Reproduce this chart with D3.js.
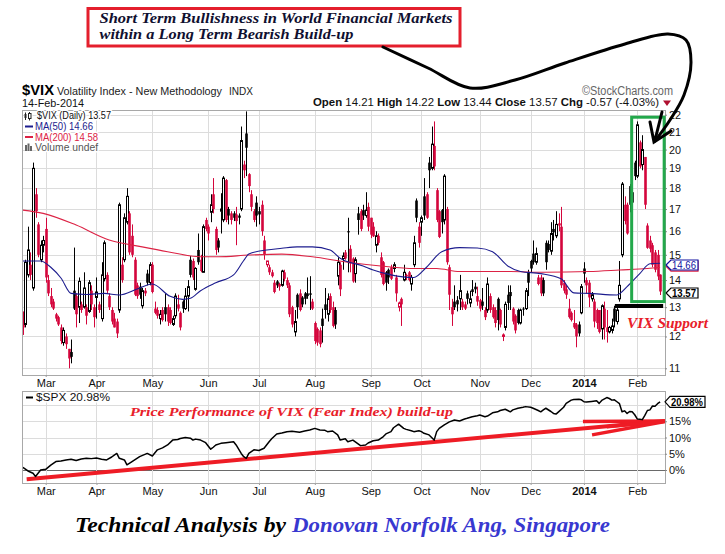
<!DOCTYPE html>
<html><head><meta charset="utf-8">
<script src="https://cdn.jsdelivr.net/npm/d3@7"></script>
<style>body{margin:0;background:#fff}svg{display:block}</style>
</head><body><svg id="c" width="725" height="554" font-family="'Liberation Sans',Arial,sans-serif"></svg>
<script>
// ---------- DATA ----------
const vixOpen=[12.8,12.4,14.2,14.6,13.7,17.7,16.3,14.8,15.4,16.1,
14.0,13.4,13.2,12.75,12.65,12.3,11.8,12.0,11.6,11.5,
13.6,13.4,13.0,13.1,13.0,13.0,12.85,13.6,13.0,13.35,
13.1,12.6,14.05,14.2,13.4,12.9,12.6,12.5,12.9,14.6,
14.8,16.4,16.8,15.8,14.8,13.8,13.75,13.05,13.6,14.25,
13.9,14.6,12.95,12.9,12.6,12.9,13.0,13.0,12.9,12.4,
12.7,13.1,12.8,13.2,12.95,13.4,14.8,14.75,13.65,15.2,
14.8,14.3,16.5,16.2,16.85,17.7,16.1,15.6,16.9,16.5,
18.4,17.0,16.8,16.8,16.75,16.7,17.0,19.2,20.9,18.7,
17.7,16.9,17.3,16.9,17.2,15.6,14.6,14.5,14.3,13.9,
13.95,13.85,13.8,14.3,14.0,13.8,13.0,12.15,13.45,13.5,
13.35,13.5,13.5,13.5,13.2,12.45,12.25,12.2,12.6,13.1,
12.75,13.4,13.0,12.9,14.15,14.6,14.85,15.1,16.0,15.25,
14.85,14.25,16.8,16.9,16.95,16.7,17.1,16.6,16.2,15.4,
15.8,14.9,14.7,14.3,14.4,14.5,14.45,14.1,13.0,13.3,
14.0,14.2,14.3,13.85,14.6,17.4,16.2,16.4,17.6,17.7,
19.3,19.0,20.2,17.9,16.9,16.95,16.5,17.0,14.5,13.0,
13.2,13.25,13.3,13.2,13.1,13.5,13.15,13.65,13.75,13.4,
13.25,13.2,12.9,12.9,13.4,13.0,12.9,13.3,12.9,12.0,
12.3,13.45,13.55,12.95,12.7,12.9,12.45,12.95,12.95,14.3,
14.75,15.05,14.7,14.1,14.1,14.0,15.5,15.45,15.15,16.1,
15.8,16.35,16.2,13.9,13.65,12.95,12.8,12.45,12.4,12.4,
12.8,14.45,14.0,13.9,13.3,13.2,12.9,12.9,12.25,12.95,
12.3,12.15,12.2,12.95,12.5,13.3,15.0,17.2,17.2,18.1,
17.8,19.3,18.6,20.4,19.2,19.6,16.25,15.6,15.4,15.1,
15.0,14.21];
const vixHigh=[12.85,14.8,16.2,15.1,19.3,18.0,16.4,15.6,15.8,16.6,
14.2,13.7,13.3,12.8,12.7,12.4,12.3,12.1,11.6,11.9,
15.3,13.5,14.1,13.2,14.3,13.1,14.0,13.8,13.1,14.1,
13.2,14.7,15.6,14.3,13.5,13.0,12.8,12.6,17.3,14.9,
16.8,18.0,16.9,16.3,14.9,13.9,13.9,13.7,13.7,14.4,
14.7,14.7,13.2,13.0,12.9,13.0,13.5,13.1,13.0,12.7,
13.5,13.45,12.85,13.25,13.7,14.0,14.95,14.85,14.5,15.9,
15.0,16.3,16.6,16.3,17.7,18.5,16.2,15.7,17.75,18.6,
18.45,17.1,16.9,16.9,17.1,16.8,21.3,19.4,22.2,18.75,
17.9,17.0,17.6,17.1,17.4,15.8,14.75,14.6,14.4,14.0,
14.0,13.9,14.4,14.4,14.1,13.9,13.05,12.9,13.5,13.65,
13.4,13.55,14.1,14.15,13.3,12.5,12.3,12.3,12.95,13.7,
13.5,13.5,13.2,13.0,14.9,14.7,15.1,15.2,16.6,15.4,
14.9,14.9,17.1,17.0,17.2,17.8,17.3,16.6,16.4,16.0,
15.9,15.1,14.75,14.35,14.45,14.6,14.7,14.2,13.2,13.35,
14.6,14.25,14.35,14.2,15.8,17.5,16.4,16.7,18.5,17.8,
19.6,21.3,21.6,18.0,16.95,17.0,18.7,17.1,14.6,13.3,
13.8,13.4,14.2,13.3,13.2,13.6,13.6,14.0,13.9,13.75,
13.3,13.7,13.0,14.1,13.5,13.1,13.0,13.35,12.95,12.1,
13.2,13.8,13.8,13.0,12.75,12.95,12.95,13.0,13.7,14.4,
14.8,15.6,15.3,14.2,14.2,14.1,15.6,15.6,16.4,16.5,
16.9,16.8,17.1,14.0,13.8,13.3,12.85,12.9,12.45,12.5,
13.85,14.7,14.1,14.0,13.55,13.3,12.95,12.9,13.1,13.2,
12.9,12.35,12.6,13.05,13.0,14.75,18.3,17.6,17.3,18.2,
18.0,19.4,21.6,20.5,20.8,19.6,16.35,15.8,15.5,15.2,
15.2,14.22];
const vixLow=[12.05,12.3,14.1,14.0,13.6,16.6,14.9,14.7,15.1,13.9,
13.4,13.0,12.9,12.5,12.35,11.75,11.7,11.6,11.0,11.15,
12.9,12.3,12.45,12.8,12.95,12.4,12.8,12.9,12.3,12.6,
12.8,12.5,13.95,13.5,12.9,12.4,12.3,11.95,12.8,13.9,
14.7,16.3,15.0,14.9,13.4,13.3,13.3,12.95,13.4,13.8,
13.8,13.5,12.75,12.6,12.4,12.5,12.5,12.35,12.4,12.35,
12.6,12.85,12.2,12.8,12.9,12.85,14.1,14.0,13.6,14.6,
14.3,14.3,16.0,15.6,16.4,16.8,15.0,15.1,15.9,16.4,
16.4,16.3,16.3,16.45,15.4,16.3,16.9,18.5,18.6,17.8,
16.9,16.4,16.2,16.3,15.8,14.8,14.5,14.2,14.1,13.5,
13.7,13.6,13.75,13.95,13.7,12.65,12.3,12.0,12.6,12.85,
13.0,13.1,13.3,12.9,12.9,11.75,11.7,11.65,11.8,12.6,
12.5,12.8,12.3,12.25,13.8,13.4,14.4,14.8,14.3,14.3,
13.9,13.9,15.85,16.0,16.5,16.6,16.0,15.7,15.75,15.1,
15.4,14.1,13.8,13.6,13.85,14.0,14.3,13.2,12.85,12.35,
13.95,14.0,13.95,13.6,14.5,16.4,15.3,15.8,16.5,16.55,
18.0,18.9,18.9,16.4,15.7,15.9,16.3,14.6,12.9,12.35,
12.9,12.85,12.9,12.9,12.9,13.1,13.0,13.4,13.5,13.05,
12.85,12.9,12.55,12.8,12.8,12.6,12.3,12.2,12.3,11.85,
12.2,12.9,12.9,12.4,12.1,12.4,12.4,12.7,12.9,13.4,
14.3,14.6,14.6,13.8,13.4,13.4,14.4,15.1,15.0,15.6,
15.7,16.0,13.7,13.5,13.3,12.6,12.5,12.25,11.65,12.0,
12.75,13.9,13.5,13.0,13.2,12.3,12.25,12.1,11.9,11.9,
11.8,12.1,12.1,12.3,12.4,13.2,14.9,16.3,15.85,16.85,
17.0,18.4,18.5,19.0,18.9,17.0,15.25,15.1,14.5,14.3,
14.0,13.44];
const vixClose=[12.3,14.7,15.2,14.2,19.0,16.9,15.0,15.4,15.6,14.1,
13.5,13.1,12.95,12.6,12.4,11.85,12.2,11.75,11.3,11.35,
12.95,12.75,13.95,12.9,13.7,12.7,13.9,13.1,12.65,13.55,
12.9,14.2,15.5,13.6,13.0,12.5,12.3,12.1,17.2,14.0,
16.6,17.6,15.1,15.0,13.45,13.4,13.45,13.6,13.5,13.9,
14.6,13.55,12.8,12.7,12.75,12.55,12.75,12.5,12.45,12.6,
13.4,12.95,12.3,12.95,13.4,13.75,14.2,14.1,14.45,14.7,
14.35,16.2,16.1,15.9,17.2,17.0,15.2,15.3,17.0,18.5,
16.5,16.7,16.5,16.6,16.45,16.6,20.5,18.9,20.1,18.1,
17.1,16.5,16.7,16.75,16.0,15.0,14.75,14.3,14.15,13.55,
13.8,13.75,14.35,14.05,13.8,12.75,12.4,12.5,13.0,12.9,
13.1,13.3,13.4,13.45,12.95,11.85,11.8,11.75,12.35,12.9,
13.3,12.9,12.35,12.4,14.7,13.65,14.95,14.85,15.95,14.65,
13.95,14.8,16.5,16.1,16.7,16.95,16.2,15.85,15.78,15.8,
15.5,14.2,13.85,13.9,14.1,14.05,14.6,13.5,13.15,13.1,
14.3,14.15,14.0,14.1,15.5,16.6,15.5,16.6,16.7,16.6,
18.9,20.3,19.1,16.5,15.75,16.4,18.6,14.7,13.45,12.75,
13.0,13.1,13.6,13.0,12.95,13.3,13.3,13.55,13.65,13.2,
12.95,13.05,12.65,13.85,12.9,12.65,12.45,12.55,12.4,12.05,
13.1,13.15,13.4,12.5,12.2,12.45,12.9,12.92,13.6,13.9,
14.45,14.7,15.05,13.85,13.5,13.5,14.7,15.2,15.9,15.95,
16.3,16.25,13.8,13.6,13.45,12.65,12.55,12.3,12.0,12.1,
13.75,14.25,13.8,13.35,13.45,12.5,12.45,12.15,13.05,12.3,
12.15,12.3,12.35,12.5,12.9,13.8,18.2,16.45,15.9,17.2,
17.3,18.6,21.4,19.1,20.0,17.2,15.29,15.25,14.6,14.4,
14.14,13.57];

const ma50Idx=[0,7,11,15,19,25,32,38,45,51,58,63,66,70,76,83,87,89,96,102,108,114,121,125,134,138,145,154,159,165,172,179,185,191,196,204,212,217,223,234,238,243,247,251];
const ma50Val=[14.75,14.75,14.5,14.08,13.5,13.46,13.5,13.44,13.66,13.85,13.39,13.28,13.32,13.6,13.9,14.2,14.77,15.03,15.2,15.27,15.33,15.33,15.2,14.86,14.55,14.39,14.2,14.1,14.5,15.13,15.3,15.28,15.13,14.55,14.33,14.25,14.05,13.52,13.5,13.44,13.75,14.25,14.64,14.66];
const ma200Idx=[0,8,21,34,47,57,70,77,89,102,114,128,141,154,163,172,192,205,223,235,246,251];
const ma200Val=[16.95,16.8,16.27,15.62,15.33,15.13,14.92,14.92,14.99,15.03,14.92,14.7,14.55,14.45,14.45,14.33,14.33,14.3,14.33,14.39,14.45,14.5];

const spxIdx=[0,2,4,5,6,7,9,11,13,15,17,19,21,23,25,27,29,31,33,35,36,37,38,40,41,43,46,49,51,53,55,57,59,61,62,64,66,67,68,70,72,74,75,76,78,80,83,84,86,87,88,89,91,93,95,97,98,100,102,104,106,109,111,113,115,117,119,120,122,124,125,127,128,130,133,135,136,138,140,142,143,145,146,148,150,151,153,154,156,157,158,160,161,162,163,164,166,168,170,172,174,175,177,179,180,182,183,185,187,188,190,192,193,195,197,198,200,201,203,204,205,206,208,209,210,211,213,214,216,217,219,220,221,222,223,224,226,227,228,230,231,232,233,234,235,236,237,238,239,240,241,242,243,244,245,246,247,248,249,250,251];
const spxPct=[0.8,-0.3,-1.0,-2.0,-1.0,0.0,0.2,1.5,2.6,2.8,3.1,3.3,2.9,3.4,3.6,3.5,3.7,3.3,3.1,4.0,4.6,5.1,3.6,3.1,1.6,2.6,4.1,5.1,4.3,6.2,6.8,7.7,9.2,9.4,9.7,10.0,9.8,9.2,9.5,9.2,8.4,6.4,7.0,7.7,8.2,8.4,8.7,7.7,5.1,4.1,3.6,5.1,6.2,6.0,6.7,8.7,9.6,11.1,11.4,11.8,11.9,11.6,12.0,12.3,12.8,12.3,12.2,11.8,12.0,10.8,9.2,9.6,8.7,9.2,7.5,7.7,8.3,9.0,9.2,10.3,11.1,11.8,13.0,14.1,12.8,12.5,12.1,11.8,12.1,11.8,11.3,10.8,10.0,9.2,11.8,12.8,13.9,14.8,15.4,15.1,15.7,15.9,16.4,16.7,16.9,16.4,16.6,17.6,17.9,18.3,18.7,17.9,18.5,19.0,19.3,19.5,19.3,19.0,18.3,17.9,18.5,19.0,18.0,17.4,17.2,17.9,19.3,20.5,21.5,21.7,21.8,21.6,21.0,20.9,21.0,21.1,21.3,20.5,21.4,22.3,22.0,21.5,21.6,21.0,20.4,17.9,18.2,17.4,18.0,17.9,17.0,15.7,15.6,15.5,16.8,18.3,18.5,19.7,19.6,20.4,20.98];

const monthTickIdx=[9,29,51,73,93,115,137,157,180,200,221,242];
const monthTickLabels=["Mar","Apr","May","Jun","Jul","Aug","Sep","Oct","Nov","Dec","2014","Feb"];
const vixTicks=[11,12,13,14,15,16,17,18,19,20,21,22];
const spxTicks=[0,5,10,15,20];
const spxLabelTicks=[0,5,10,15];

// ---------- LAYOUT ----------
const svg=d3.select("#c");
const SERIF="'Liberation Serif','DejaVu Serif',serif";
const SANS="'Liberation Sans',Arial,sans-serif";
const L=22,R=665,T1=110,B1=375,T2=391,B2=483;
const RED="#d4063c",BLK="#000",NAVY="#1c1c8e",MARED="#dc2244";
const x=d3.scaleLinear().domain([0,251]).range([22.85,660.1]);
const y=d3.scaleLog().domain([11,22]).range([368.3,114.7]);
const yS=d3.scaleLinear().domain([0,20]).range([470,405]);

// ---------- TOP ANNOTATION ----------
svg.append("rect").attr("x",88).attr("y",8.5).attr("width",372).attr("height",37.5)
  .attr("fill","#fff").attr("stroke","#e41f2d").attr("stroke-width",3);
const ann=svg.append("g").attr("font-family",SERIF)
  .attr("font-style","italic").attr("font-weight","bold").attr("fill","#101030");
ann.append("text").attr("x",99.5).attr("y",23).attr("font-size",14)
  .attr("textLength",353).attr("lengthAdjust","spacingAndGlyphs").text("Short Term Bullishness in World Financial Markets");
ann.append("text").attr("x",99.5).attr("y",38.5).attr("font-size",14)
  .attr("textLength",254).attr("lengthAdjust","spacingAndGlyphs").text("within a Long Term Bearish Build-up");

// ---------- HEADER ----------
svg.append("text").attr("x",22).attr("y",94.5).attr("font-size",14.5).attr("font-weight","bold")
  .attr("textLength",32).attr("lengthAdjust","spacingAndGlyphs").text("$VIX");
svg.append("text").attr("x",57).attr("y",94.5).attr("font-size",10.8).attr("fill","#222")
  .attr("textLength",165).attr("lengthAdjust","spacingAndGlyphs").text("Volatility Index - New Methodology");
svg.append("text").attr("x",229).attr("y",94.5).attr("font-size",10.5).attr("fill","#222")
  .attr("textLength",24).attr("lengthAdjust","spacingAndGlyphs").text("INDX");
svg.append("text").attr("x",582).attr("y",94.5).attr("font-size",12).attr("fill","#666")
  .attr("textLength",91).attr("lengthAdjust","spacingAndGlyphs").text("©StockCharts.com");
svg.append("text").attr("x",22).attr("y",106.5).attr("font-size",10.8).attr("fill","#111")
  .attr("textLength",62).attr("lengthAdjust","spacingAndGlyphs").text("14-Feb-2014");
const hdr=svg.append("text").attr("x",313).attr("y",106).attr("font-size",11.5).attr("fill","#111")
  .attr("textLength",346).attr("lengthAdjust","spacingAndGlyphs");
[["Open",1],[" 14.21  ",0],["High",1],[" 14.22  ",0],["Low",1],[" 13.44  ",0],["Close",1],[" 13.57  ",0],["Chg",1],[" -0.57 (-4.03%)",0]]
  .forEach(([t,b])=>hdr.append("tspan").attr("font-weight",b?"bold":"normal").text(t));
svg.append("path").attr("d","M663,100.5L671,100.5L667,106Z").attr("fill","#b01030");

// ---------- MAIN PANEL ----------
const g1=svg.append("g");
g1.append("g").selectAll("line").data(vixTicks).join("line")
  .attr("x1",L).attr("x2",R).attr("y1",d=>Math.round(y(d))+0.5).attr("y2",d=>Math.round(y(d))+0.5)
  .attr("stroke","#dcdcdc");
g1.append("g").selectAll("line").data(monthTickIdx).join("line")
  .attr("x1",d=>Math.round(x(d))+0.5).attr("x2",d=>Math.round(x(d))+0.5).attr("y1",T1).attr("y2",B1)
  .attr("stroke","#dcdcdc");

const candles=vixClose.map((c,i)=>({i,o:vixOpen[i],h:vixHigh[i],l:vixLow[i],c,
  prev:i>0?vixClose[i-1]:vixOpen[i]}));
const col=d=>d.c<d.prev?RED:BLK;
const cg=g1.append("g");
cg.selectAll("line").data(candles).join("line")
  .attr("x1",d=>Math.round(x(d.i))+0.5).attr("x2",d=>Math.round(x(d.i))+0.5)
  .attr("y1",d=>y(d.h)).attr("y2",d=>y(d.l)).attr("stroke",col).attr("stroke-width",1);
cg.selectAll("rect").data(candles).join("rect")
  .attr("x",d=>d.c>d.o?Math.round(x(d.i))-0.5:Math.round(x(d.i))-0.8)
  .attr("width",d=>d.c>d.o?2:2.6)
  .attr("y",d=>y(Math.max(d.o,d.c)))
  .attr("height",d=>Math.max(1,y(Math.min(d.o,d.c))-y(Math.max(d.o,d.c))))
  .attr("fill",d=>d.c>d.o?"#fff":col(d))
  .attr("stroke",d=>d.c>d.o?col(d):"none").attr("stroke-width",1);

const maLine=d3.line().x(d=>x(d[0])).y(d=>y(d[1])).curve(d3.curveMonotoneX);
g1.append("path").attr("d",maLine(ma200Idx.map((d,i)=>[d,ma200Val[i]])))
  .attr("fill","none").attr("stroke",MARED).attr("stroke-width",1.1);
g1.append("path").attr("d",maLine(ma50Idx.map((d,i)=>[d,ma50Val[i]])))
  .attr("fill","none").attr("stroke",NAVY).attr("stroke-width",1.1);

g1.append("rect").attr("x",L+0.5).attr("y",T1+0.5).attr("width",R-L).attr("height",B1-T1)
  .attr("fill","none").attr("stroke","#a8a8a8");

// right axis
const ax1=svg.append("g").attr("transform",`translate(${R},0)`)
  .call(d3.axisRight(y).tickValues(vixTicks).tickFormat(d3.format("d")).tickSize(2).tickPadding(2));
ax1.select(".domain").remove();
ax1.selectAll("text").attr("font-size",10.8).attr("font-family",SANS).attr("fill","#111");
ax1.selectAll("line").attr("stroke","#888");

// month axes
function monthAxis(yPos){
  const a=svg.append("g").attr("transform",`translate(0,${yPos})`)
    .call(d3.axisBottom(x).tickValues(monthTickIdx).tickFormat((d,i)=>monthTickLabels[i]).tickSize(2).tickPadding(2.5));
  a.select(".domain").remove();
  a.selectAll("line").attr("stroke","#999");
  a.selectAll("text").attr("font-size",11).attr("font-family",SANS).attr("fill","#111")
    .attr("font-weight",(d,i)=>monthTickLabels[i]==="2014"?"bold":"normal");
}
monthAxis(B1);
monthAxis(B2);

// legend (main)
const lg=svg.append("g").attr("font-size",10.3);
const halo=s=>s.attr("stroke","#fff").attr("stroke-width",3).attr("paint-order","stroke").attr("stroke-linejoin","round");
lg.append("rect").attr("x",24).attr("y",112).attr("width",8.5).attr("height",8.5).attr("fill","#fff");
lg.append("line").attr("x1",25.5).attr("x2",25.5).attr("y1",112.5).attr("y2",120).attr("stroke","#222");
lg.append("rect").attr("x",24.5).attr("y",114).attr("width",2).attr("height",4).attr("fill","#222");
lg.append("line").attr("x1",29.5).attr("x2",29.5).attr("y1",112).attr("y2",120.5).attr("stroke","#222");
lg.append("rect").attr("x",28.5).attr("y",113.5).attr("width",2.5).attr("height",5).attr("fill","#fff").attr("stroke","#222");
lg.append("text").attr("x",37).attr("y",119).attr("fill","#111").attr("textLength",74).attr("lengthAdjust","spacingAndGlyphs")
  .text("$VIX (Daily) 13.57").call(halo);
lg.append("line").attr("x1",25).attr("x2",33).attr("y1",126.5).attr("y2",126.5).attr("stroke",NAVY).attr("stroke-width",2);
lg.append("text").attr("x",35).attr("y",130).attr("fill",NAVY).attr("textLength",58).attr("lengthAdjust","spacingAndGlyphs")
  .text("MA(50) 14.66").call(halo);
lg.append("line").attr("x1",25).attr("x2",33).attr("y1",137).attr("y2",137).attr("stroke",MARED).attr("stroke-width",2);
lg.append("text").attr("x",35).attr("y",140.5).attr("fill",MARED).attr("textLength",63).attr("lengthAdjust","spacingAndGlyphs")
  .text("MA(200) 14.58").call(halo);
[[25,145,6],[27.5,143.5,7.5],[30,146,5]].forEach(([bx,by,bh])=>
  lg.append("rect").attr("x",bx).attr("y",by).attr("width",2).attr("height",bh).attr("fill","#666"));
lg.append("text").attr("x",35).attr("y",151).attr("fill","#555").attr("textLength",63).attr("lengthAdjust","spacingAndGlyphs")
  .text("Volume undef").call(halo);

// price tags
function tag(yc,stroke,txt,bold,fill){
  const x0=R+1,w=32,h=10;
  const g=svg.append("g");
  g.append("path").attr("d",`M${x0},${yc}L${x0+5},${yc-h/2}L${x0+w},${yc-h/2}L${x0+w},${yc+h/2}L${x0+5},${yc+h/2}Z`)
    .attr("fill","#fff").attr("stroke",stroke).attr("stroke-width",1.2);
  if(txt) g.append("text").attr("x",x0+6).attr("y",yc+3.8).attr("font-size",10.5).attr("font-weight",bold?"bold":"normal")
    .attr("fill",fill).attr("textLength",w-8).attr("lengthAdjust","spacingAndGlyphs").text(txt);
}
tag(y(14.58)+1,MARED,null,false,MARED);   // MA(200) tag, hidden behind the MA(50) tag
tag(y(14.66)+1.8,"#1010a0","14.66",false,"#1010a0");
tag(y(13.57)+1.5,"#000","13.57",true,"#000");

// green box + support + label
svg.append("rect").attr("x",x(239.8)).attr("y",y(21.85)).attr("width",x(252.6)-x(239.8)).attr("height",y(13.2)-y(21.85))
  .attr("fill","none").attr("stroke","#23a84b").attr("stroke-width",3);
svg.append("line").attr("x1",x(233.2)).attr("x2",x(252.2)).attr("y1",y(13.04)).attr("y2",y(13.04))
  .attr("stroke","#000").attr("stroke-width",4);
svg.append("text").attr("x",627).attr("y",327.5).attr("font-family",SERIF)
  .attr("font-style","italic").attr("font-weight","bold").attr("font-size",14).attr("fill","#e8202a")
  .attr("textLength",81).attr("lengthAdjust","spacingAndGlyphs").text("VIX Support");

// curved arrow
const arrowPts=[[383,47],[428,68],[470,88],[515,80],[565,63],[625,44],[668,34],[686,40],[691,62],[684,95],[670,120],[655,141]];
svg.append("path").attr("d",d3.line().curve(d3.curveCatmullRom)(arrowPts))
  .attr("fill","none").attr("stroke","#000").attr("stroke-width",3).attr("stroke-linecap","round");
svg.append("path").attr("d","M650,122L654,142L671,131M662,112L655,140")
  .attr("fill","none").attr("stroke","#000").attr("stroke-width",3).attr("stroke-linecap","round");

// ---------- LOWER PANEL ----------
const g2=svg.append("g");
g2.append("g").selectAll("line").data(spxTicks).join("line")
  .attr("x1",L).attr("x2",R).attr("y1",d=>Math.round(yS(d))+0.5).attr("y2",d=>Math.round(yS(d))+0.5)
  .attr("stroke",d=>d===0?"#6a6a6a":"#dcdcdc");
g2.append("g").selectAll("line").data(monthTickIdx).join("line")
  .attr("x1",d=>Math.round(x(d))+0.5).attr("x2",d=>Math.round(x(d))+0.5).attr("y1",T2).attr("y2",B2)
  .attr("stroke","#dcdcdc");
const redLines=[[[1.5,-2.86],[252.9,15.1]],[[220.6,14.9],[252.9,15.1]],[[224.2,10.8],[252.9,14.9]],[[230,13.3],[252.9,15.0]]];
g2.selectAll("path.rl").data(redLines).join("path").attr("class","rl")
  .attr("d",d=>d3.line().x(p=>x(p[0])).y(p=>yS(p[1]))(d))
  .attr("stroke","#ee1c25").attr("stroke-width",(d,i)=>i===0?4:3.5).attr("fill","none");
g2.append("path").attr("d",d3.line().x(d=>x(d[0])).y(d=>yS(d[1]))(spxIdx.map((d,i)=>[d,spxPct[i]])))
  .attr("fill","none").attr("stroke","#000").attr("stroke-width",1.5).attr("stroke-linejoin","round");
g2.append("rect").attr("x",L+0.5).attr("y",T2+0.5).attr("width",R-L).attr("height",B2-T2)
  .attr("fill","none").attr("stroke","#a8a8a8");
const ax2=svg.append("g").attr("transform",`translate(${R},0)`)
  .call(d3.axisRight(yS).tickValues(spxLabelTicks).tickFormat(d=>d+"%").tickSize(2).tickPadding(2));
ax2.select(".domain").remove();
ax2.selectAll("text").attr("font-size",11).attr("font-family",SANS).attr("fill","#111");
ax2.selectAll("line").attr("stroke","#888");
(function(){
  const yc=yS(20.98),x0=R,w=40,h=11;
  svg.append("path").attr("d",`M${x0},${yc}L${x0+5},${yc-h/2}L${x0+w},${yc-h/2}L${x0+w},${yc+h/2}L${x0+5},${yc+h/2}Z`)
    .attr("fill","#fff").attr("stroke","#000").attr("stroke-width",1.2);
  svg.append("text").attr("x",x0+6).attr("y",yc+4).attr("font-size",11).attr("font-weight","bold")
    .attr("textLength",w-8).attr("lengthAdjust","spacingAndGlyphs").text("20.98%");
})();
svg.append("line").attr("x1",26).attr("x2",33).attr("y1",397.5).attr("y2",397.5).attr("stroke","#000").attr("stroke-width",2);
svg.append("text").attr("x",36).attr("y",401).attr("font-size",11).attr("fill","#111")
  .attr("textLength",74).attr("lengthAdjust","spacingAndGlyphs").text("$SPX 20.98%").call(halo);
svg.append("text").attr("x",130).attr("y",415.5).attr("font-family",SERIF)
  .attr("font-style","italic").attr("font-weight","bold").attr("font-size",13.5).attr("fill","#e8202a")
  .attr("textLength",323).attr("lengthAdjust","spacingAndGlyphs").text("Price Performance of VIX (Fear Index) build-up");

// ---------- FOOTER ----------
const ft=svg.append("g").attr("font-family",SERIF).attr("font-style","italic")
  .attr("font-weight","bold").attr("font-size",21);
ft.append("text").attr("x",75).attr("y",532).attr("fill","#000")
  .attr("textLength",211).attr("lengthAdjust","spacingAndGlyphs").text("Technical Analysis by");
ft.append("text").attr("x",292).attr("y",532).attr("fill","#3838d0")
  .attr("textLength",318).attr("lengthAdjust","spacingAndGlyphs").text("Donovan Norfolk Ang, Singapore");
</script></body></html>
